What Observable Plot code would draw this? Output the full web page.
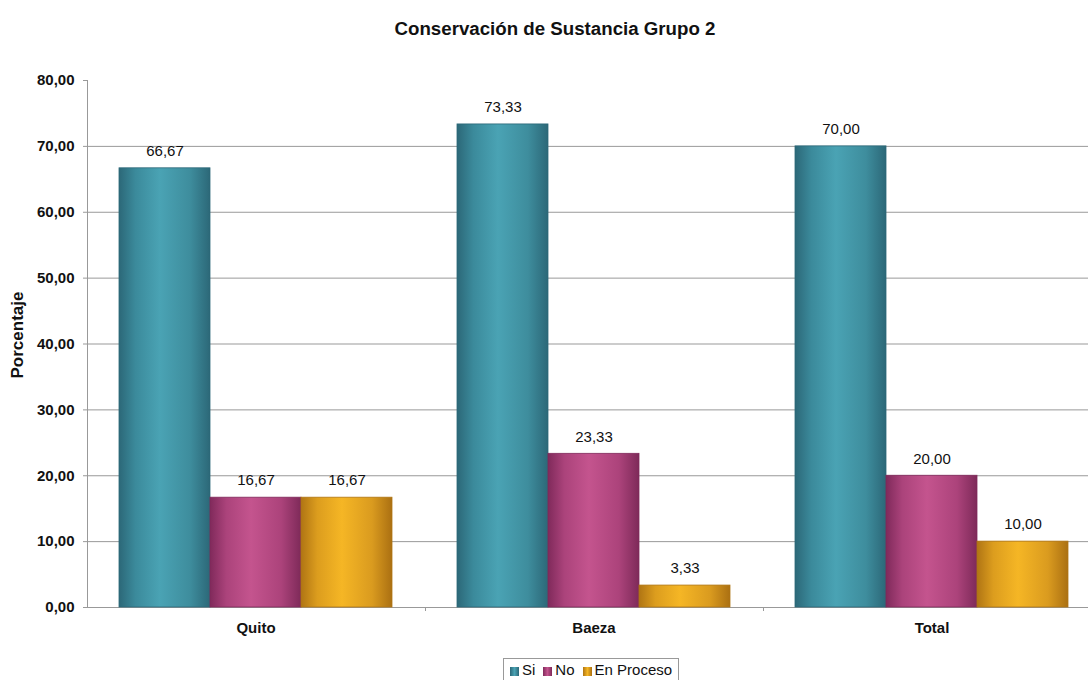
<!DOCTYPE html>
<html>
<head>
<meta charset="utf-8">
<script src="https://cdn.jsdelivr.net/npm/d3@7"></script>
<script src="https://cdn.jsdelivr.net/npm/@observablehq/plot@0.6"></script>
<style>
  html, body { margin: 0; padding: 0; background: #fff; overflow: hidden; width: 1088px; height: 680px; }
  body { font-family: "Liberation Sans", Arial, sans-serif; position: relative; }
  #title { position: absolute; left: 0; width: 1110px; top: 19px; line-height: 19px; text-align: center; font-weight: bold; font-size: 18.7px; color: #111; }
  #ytitle { position: absolute; left: 18px; top: 335px; transform: translate(-50%, -50%) rotate(-90deg); font-weight: bold; font-size: 17px; white-space: nowrap; color: #111; }
  .layer { position: absolute; left: 0; top: 60px; }
  .layer svg { max-width: none !important; display: block; }
  #legend { position: absolute; left: 503px; top: 658px; border: 1px solid #999; padding: 2px 6px 2px 6px; font-size: 15px; line-height: 18px; white-space: nowrap; color: #111; display: flex; gap: 8px; }
  #legend span.sw { display: inline-block; width: 9px; height: 9px; margin-right: 3px; vertical-align: -1px; }
</style>
</head>
<body>
<div id="title">Conservación de Sustancia Grupo 2</div>
<div id="ytitle">Porcentaje</div>
<div id="layerA" class="layer"></div>
<div id="layerB" class="layer"></div>
<div id="legend"></div>
<script>
// ---- data ----
const categories = ["Quito", "Baeza", "Total"];
const series = ["Si", "No", "En Proceso"];
const si = [66.67, 73.33, 70.00];
const no = [16.67, 23.33, 20.00];
const enProceso = [16.67, 3.33, 10.00];
const yTicks = [0, 10, 20, 30, 40, 50, 60, 70, 80];

// ---- styling ----
const gradients = [
  ["#2c6878", "#3b8a9b", "#4aa3b4", "#3e8d9d", "#2c6878"],
  ["#802a5b", "#ab437b", "#c4548e", "#ac437b", "#7e2a59"],
  ["#b07514", "#dc9d1e", "#f5b625", "#da9b1f", "#ab7012"]
];

const valuesBySeries = [si, no, enProceso];
const rows = categories.flatMap((c, i) =>
  series.map((s, k) => ({category: c, series: s, value: valuesBySeries[k][i]}))
);

const locale = d3.formatLocale({decimal: ",", thousands: ".", grouping: [3], currency: ["", ""]});
const fmt = locale.format(".2f");

const W = 1101, H = 587;
const common = {width: W, height: H, marginTop: 20, marginLeft: 87, marginRight: 0, marginBottom: 40};
const gridColor = "#999999";

// background layer: grid, axes
const plotA = Plot.plot({
  ...common,
  style: {fontFamily: "Liberation Sans, Arial, sans-serif", fontSize: "15px", background: "transparent", color: "#111"},
  x: {domain: [0, categories.length], axis: null},
  y: {domain: [0, 80], axis: null},
  marks: [
    Plot.ruleY(yTicks.filter(t => t > 0 && t < 80), {stroke: gridColor, strokeWidth: 1}),
    Plot.ruleY([0], {stroke: gridColor, strokeWidth: 1}),
    Plot.ruleX([0], {stroke: gridColor, strokeWidth: 1}),
    Plot.axisY(yTicks, {tickFormat: fmt, tickSize: 4, tickPadding: 9, fontSize: 15, fontWeight: "bold", label: null, stroke: gridColor, fill: "#111"}),
    Plot.axisX(d3.range(1, categories.length), {tickSize: 4, tickFormat: () => "", label: null, stroke: gridColor})
  ]
});
document.getElementById("layerA").appendChild(plotA);

// foreground layer: bars and labels
const plotB = Plot.plot({
  ...common,
  style: {fontFamily: "Liberation Sans, Arial, sans-serif", fontSize: "15px", background: "transparent", color: "#111"},
  fx: {domain: categories, paddingInner: 0.186, paddingOuter: 0.093, axis: null, label: null},
  x: {domain: series, padding: 0, axis: null},
  y: {domain: [0, 80], axis: null},
  marks: [
    ...series.map((s, k) =>
      Plot.barY(rows.filter(d => d.series === s), {
        fx: "category", x: "series", y: "value",
        fill: `url(#grad${k})`, stroke: gradients[k][0], strokeWidth: 0.8
      })
    ),
    Plot.text(rows, {fx: "category", x: "series", y: "value", text: d => fmt(d.value), dy: -17, fontSize: 15, fill: "#111"}),
    Plot.text(categories, {fx: d => d, text: d => d, frameAnchor: "bottom", dy: 25, fontSize: 15, fontWeight: "bold", fill: "#111"})
  ]
});
const defs = d3.select(plotB).insert("defs", ":first-child");
gradients.forEach((g, k) => {
  const lg = defs.append("linearGradient").attr("id", `grad${k}`).attr("x1", "0").attr("x2", "1").attr("y1", "0").attr("y2", "0");
  const offs = [0, 0.18, 0.45, 0.78, 1];
  g.forEach((c, j) => lg.append("stop").attr("offset", offs[j]).attr("stop-color", c));
});
document.getElementById("layerB").appendChild(plotB);

// legend
const legend = d3.select("#legend");
series.forEach((s, k) => {
  const item = legend.append("span");
  item.append("span").attr("class", "sw")
    .style("background", `linear-gradient(to right, ${gradients[k][0]}, ${gradients[k][2]}, ${gradients[k][4]})`);
  item.append("span").text(s);
});
</script>
</body>
</html>
